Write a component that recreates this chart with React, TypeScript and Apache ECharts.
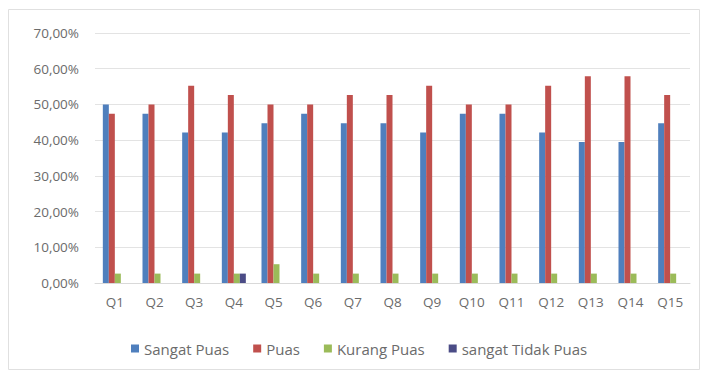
import React, { useEffect, useRef } from "react";
import * as echarts from "echarts";

const categories = ["Q1", "Q2", "Q3", "Q4", "Q5", "Q6", "Q7", "Q8", "Q9", "Q10", "Q11", "Q12", "Q13", "Q14", "Q15"];
const sangatPuas = [50.0, 47.37, 42.11, 42.11, 44.74, 47.37, 44.74, 44.74, 42.11, 47.37, 47.37, 42.11, 39.47, 39.47, 44.74];
const puas = [47.37, 50.0, 55.26, 52.63, 50.0, 50.0, 52.63, 52.63, 55.26, 50.0, 50.0, 55.26, 57.89, 57.89, 52.63];
const kurangPuas = [2.63, 2.63, 2.63, 2.63, 5.26, 2.63, 2.63, 2.63, 2.63, 2.63, 2.63, 2.63, 2.63, 2.63, 2.63];
const sangatTidakPuas = [0, 0, 0, 2.63, 0, 0, 0, 0, 0, 0, 0, 0, 0, 0, 0];

const seriesNames = ["Sangat Puas", "Puas", "Kurang Puas", "sangat Tidak Puas"];
const seriesColors = ["#4f7fbd", "#c0504d", "#9bbb59", "#4b4c86"];

const fmt = (v: number) => v.toFixed(2).replace(".", ",") + "%";

export default function App() {
  const ref = useRef<HTMLDivElement>(null);

  useEffect(() => {
    if (!ref.current) return;
    const chart = echarts.init(ref.current, undefined, { renderer: "svg" });
    const font = "Open Sans, Liberation Sans, sans-serif";
    const textColor = "#6b6b6b";
    const data = [sangatPuas, puas, kurangPuas, sangatTidakPuas];
    chart.setOption({
      animation: false,
      backgroundColor: "#ffffff",
      textStyle: { fontFamily: font },
      graphic: [
        {
          type: "rect",
          shape: { x: 8.5, y: 9.5, width: 691, height: 360 },
          style: { fill: "none", stroke: "#e0e0e0", lineWidth: 1 },
          silent: true,
        },
      ],
      grid: { left: 95, right: 15, top: 33, bottom: 89 },
      legend: {
        left: 126,
        top: 336,
        itemWidth: 8,
        itemHeight: 8,
        itemGap: 24,
        icon: "rect",
        textStyle: { fontSize: 15, color: textColor, fontFamily: font },
        data: seriesNames,
      },
      xAxis: {
        type: "category",
        data: categories,
        axisLine: { show: true, lineStyle: { color: "#d9d9d9" } },
        axisTick: { show: false },
        axisLabel: { color: textColor, fontSize: 13.5, margin: 12, fontFamily: font },
      },
      yAxis: {
        type: "value",
        min: 0,
        max: 70,
        interval: 10,
        axisLine: { show: false },
        axisTick: { show: false },
        splitLine: { lineStyle: { color: "#e3e3e3" } },
        axisLabel: { color: textColor, fontSize: 13.5, margin: 16, fontFamily: font, formatter: (v: number) => fmt(v) },
      },
      series: seriesNames.map((name, i) => ({
        name,
        type: "bar",
        data: data[i],
        barWidth: 6,
        barGap: "0%",
        itemStyle: { color: seriesColors[i] },
      })),
    });
    return () => chart.dispose();
  }, []);

  return <div ref={ref} style={{ position: "absolute", left: 0, top: 0, width: 705, height: 372 }} />;
}
